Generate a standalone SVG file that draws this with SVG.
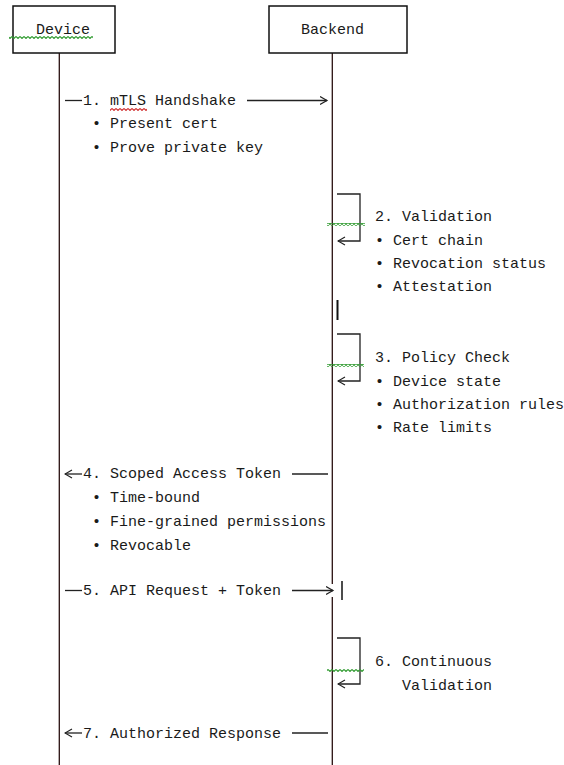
<svg xmlns="http://www.w3.org/2000/svg" width="564" height="765" viewBox="0 0 564 765">
<style>
text{font-family:"Liberation Mono","Courier New",monospace;font-size:15px;fill:#1a1a1a}
.box{fill:#fff;stroke:#111;stroke-width:1.5}
.life{stroke:#2a1010;stroke-width:1.3;fill:none}
.ln{stroke:#222;stroke-width:1.3;fill:none}
</style>
<defs>
<marker id="ah" markerWidth="9" markerHeight="10" refX="7.5" refY="4.5" orient="auto" markerUnits="userSpaceOnUse"><path d="M0.5,0.5 L7.5,4.5 L0.5,8.5" fill="none" stroke="#222" stroke-width="1.2"/></marker>
<pattern id="sqg" width="4" height="3" patternUnits="userSpaceOnUse"><path d="M0,0.5 L2,2.5 L4,0.5" fill="none" stroke="#2e9a2e" stroke-width="1.1"/></pattern>
<pattern id="sqr" width="4" height="3" patternUnits="userSpaceOnUse"><path d="M0,0.5 L2,2.5 L4,0.5" fill="none" stroke="#d03030" stroke-width="1.1"/></pattern>
</defs>
<g id="connectors">
<line class="life" x1="59.3" y1="53" x2="59.3" y2="765"/>
<line class="life" x1="332.3" y1="53" x2="332.3" y2="584"/>
<line class="life" x1="332.3" y1="597" x2="332.3" y2="765"/>
<line class="ln" x1="65" y1="100.5" x2="82" y2="100.5"/>
<line class="ln" x1="247" y1="100.5" x2="327" y2="100.5" marker-end="url(#ah)"/>
<polyline class="ln" points="337,194 360,194 360,241 338,241" marker-end="url(#ah)"/>
<line x1="337.5" y1="300" x2="337.5" y2="320" stroke="#111" stroke-width="2"/>
<polyline class="ln" points="337,334 360,334 360,381 338,381" marker-end="url(#ah)"/>
<line class="ln" x1="82" y1="474" x2="65" y2="474" marker-end="url(#ah)"/>
<line class="ln" x1="292" y1="474" x2="328" y2="474"/>
<line class="ln" x1="65" y1="590.5" x2="82" y2="590.5"/>
<line class="ln" x1="292" y1="590.5" x2="333" y2="590.5" marker-end="url(#ah)"/>
<line x1="342" y1="581" x2="342" y2="600" stroke="#111" stroke-width="1.5"/>
<polyline class="ln" points="337,638 360,638 360,684 338,684" marker-end="url(#ah)"/>
<line class="ln" x1="82" y1="733" x2="65" y2="733" marker-end="url(#ah)"/>
<line class="ln" x1="292" y1="733" x2="328" y2="733"/>
</g>
<g id="device">
<rect class="box" x="13" y="6" width="102" height="47"/>
<text x="36" y="34">Device</text>
</g>
<g id="backend">
<rect class="box" x="269" y="6" width="138" height="47"/>
<text x="301" y="34">Backend</text>
</g>
<g id="msg1">
<text x="83" y="105">1. mTLS Handshake</text>
<text x="92" y="128">• Present cert</text>
<text x="92" y="152">• Prove private key</text>
</g>
<g id="msg2">
<text x="375" y="221">2. Validation</text>
<text x="375" y="245">• Cert chain</text>
<text x="375" y="268">• Revocation status</text>
<text x="375" y="291">• Attestation</text>
</g>
<g id="msg3">
<text x="375" y="362">3. Policy Check</text>
<text x="375" y="386">• Device state</text>
<text x="375" y="409">• Authorization rules</text>
<text x="375" y="432">• Rate limits</text>
</g>
<g id="msg4">
<text x="83" y="478">4. Scoped Access Token</text>
<text x="92" y="502">• Time-bound</text>
<text x="92" y="526">• Fine-grained permissions</text>
<text x="92" y="550">• Revocable</text>
</g>
<g id="msg5">
<text x="83" y="595">5. API Request + Token</text>
</g>
<g id="msg6">
<text x="375" y="666">6. Continuous</text>
<text x="402" y="690">Validation</text>
</g>
<g id="msg7">
<text x="83" y="738">7. Authorized Response</text>
</g>
<g id="squiggles">
<rect x="9" y="36" width="84" height="3" fill="url(#sqg)"/>
<rect x="110" y="108" width="37" height="3" fill="url(#sqr)"/>
<rect x="327" y="223" width="38" height="3" fill="url(#sqg)"/>
<rect x="327" y="364" width="37" height="3" fill="url(#sqg)"/>
<rect x="327" y="669" width="37" height="3" fill="url(#sqg)"/>
</g>
</svg>
